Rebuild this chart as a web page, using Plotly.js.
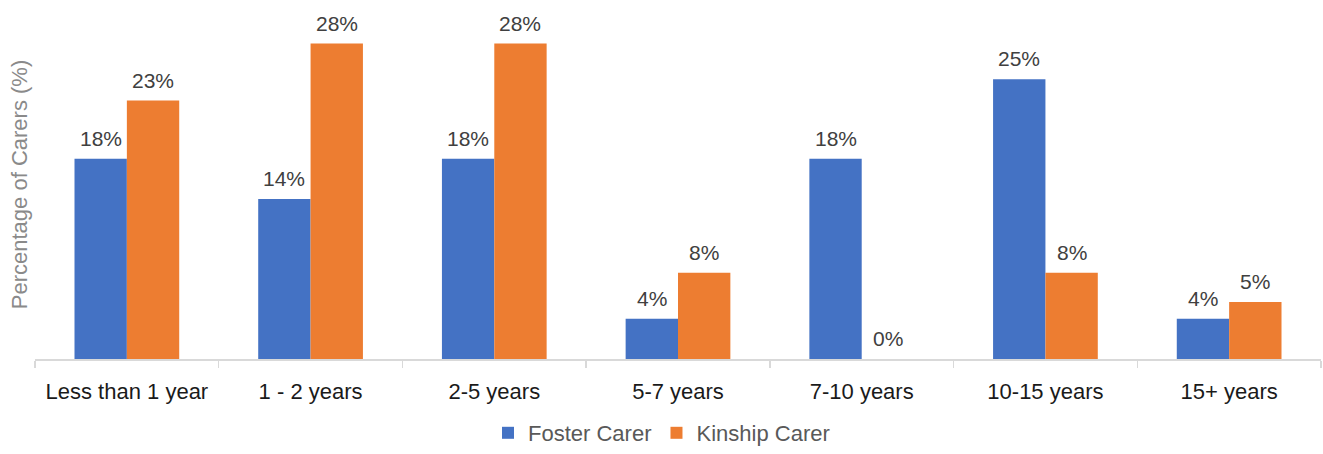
<!DOCTYPE html>
<html>
<head>
<meta charset="utf-8">
<script src="https://cdn.plot.ly/plotly-3.0.1.min.js"></script>
<style>html,body{margin:0;padding:0;background:#fff;}#chart{width:1323px;height:454px;}</style>
</head>
<body>
<div id="chart"></div>
<script>
const categories = ["Less than 1 year", "1 - 2 years", "2-5 years", "5-7 years", "7-10 years", "10-15 years", "15+ years"];
const fosterCarer = [17.9, 14.3, 17.9, 3.6, 17.9, 25.0, 3.6];
const kinshipCarer = [23.1, 28.2, 28.2, 7.7, 0, 7.7, 5.1];

const FONT = "Liberation Sans, Arial, sans-serif";
const labelFont = {family: FONT, size: 21, color: "#404040"};
const marginL = 35, marginR = 2, W = 1323, bargap = 0.43;
const catW = (W - marginL - marginR) / categories.length;
const barW = catW * (1 - bargap) / 2;

const traces = [
  {type: "bar", name: "Foster Carer", x: categories, y: fosterCarer,
   marker: {color: "#4472C4"}, hoverinfo: "none"},
  {type: "bar", name: "Kinship Carer", x: categories, y: kinshipCarer,
   marker: {color: "#ED7D31"}, hoverinfo: "none"}
];
const annotations = [];
[fosterCarer, kinshipCarer].forEach((series, si) => {
  series.forEach((v, i) => {
    annotations.push({x: categories[i], y: v, xref: "x", yref: "y",
      text: Math.round(v) + "%", showarrow: false, yanchor: "bottom",
      xshift: (si === 0 ? -1 : 1) * barW / 2, yshift: 7, font: labelFont});
  });
});
const layout = {
  width: W, height: 454,
  margin: {l: marginL, r: marginR, t: 10, b: 95},
  paper_bgcolor: "#fff", plot_bgcolor: "#fff",
  barmode: "group", bargap: bargap, bargroupgap: 0,
  font: {family: FONT, size: 21, color: "#404040"},
  xaxis: {type: "category", showline: true, linecolor: "#d9d9d9", linewidth: 1.5,
    ticks: "outside", tickson: "boundaries", ticklen: 7, tickcolor: "#d9d9d9", tickwidth: 1.5,
    tickfont: {size: 22, color: "#1a1a1a"}, ticklabelstandoff: 12, showgrid: false, zeroline: false},
  yaxis: {range: [0, 31.2], showticklabels: false, showgrid: false, zeroline: false, showline: false,
    title: {text: "Percentage of Carers (%)", font: {size: 22, color: "#8a8a8a"}, standoff: 0}},
  annotations: annotations,
  showlegend: true,
  legend: {orientation: "h", x: 0.5, xanchor: "center", xref: "container",
    y: -0.018, yanchor: "bottom", yref: "container",
    font: {size: 22, color: "#595959"}, traceorder: "normal", itemwidth: 30}
};
Plotly.newPlot("chart", traces, layout, {staticPlot: true});
</script>
</body>
</html>
